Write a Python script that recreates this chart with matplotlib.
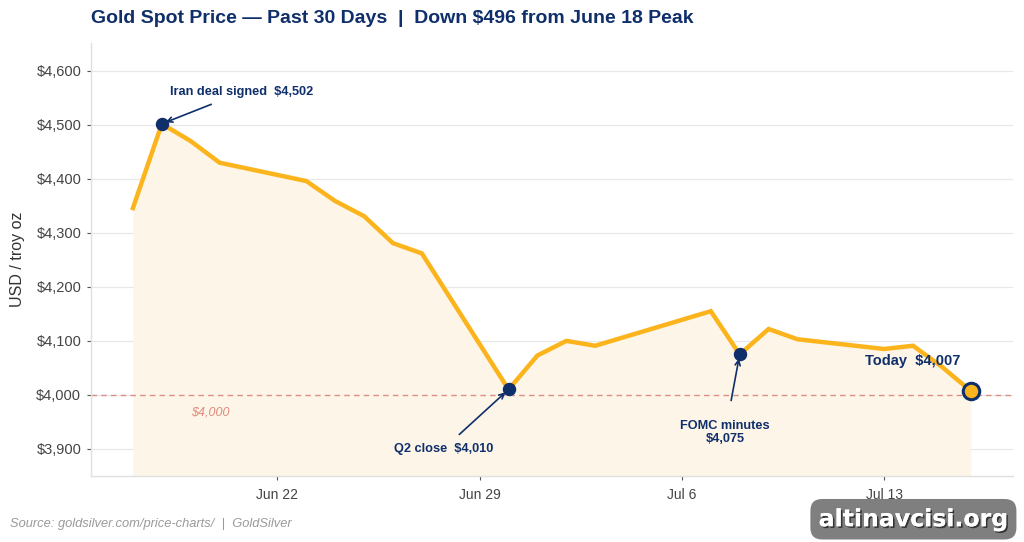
import matplotlib
matplotlib.use("Agg")
import matplotlib.pyplot as plt
import matplotlib.patheffects as pe
import pandas as pd

plt.rcParams['font.family'] = ['Liberation Sans', 'DejaVu Sans']

dates = pd.to_datetime([
    "2025-06-17", "2025-06-18", "2025-06-19", "2025-06-20", "2025-06-23",
    "2025-06-24", "2025-06-25", "2025-06-26", "2025-06-27", "2025-06-30",
    "2025-07-01", "2025-07-02", "2025-07-03", "2025-07-07", "2025-07-08",
    "2025-07-09", "2025-07-10", "2025-07-13", "2025-07-14", "2025-07-15",
    "2025-07-16",
])
prices = [4346, 4502, 4470, 4430, 4396,
          4359, 4331, 4281, 4262, 4010,
          4073, 4100, 4091, 4155, 4075,
          4122, 4103, 4085, 4091, 4052,
          4007]

events = [
    ("2025-06-18", 4502, "Iran deal signed  $4,502"),
    ("2025-06-30", 4010, "Q2 close  $4,010"),
    ("2025-07-08", 4075, "FOMC minutes\n$4,075"),
]
today_label = "Today  $4,007"
ref_level = 4000
yticks = [3900, 4000, 4100, 4200, 4300, 4400, 4500, 4600]
xtick_dates = pd.to_datetime(["2025-06-22", "2025-06-29", "2025-07-06", "2025-07-13"])

NAVY = "#0f2f6b"
GOLD = "#fbb41c"
FILL = "#fdf5e8"

fig = plt.figure(figsize=(10.24, 5.42), dpi=100)
ax = fig.add_axes([0.0889, 0.122, 0.9001, 0.799])

ax.fill_between(dates, prices, 3850, color=FILL, linewidth=0, zorder=1)
ax.plot(dates, prices, color=GOLD, linewidth=3.2, zorder=3, solid_joinstyle='miter')
ax.axhline(ref_level, color="#d9857a", linestyle=(0, (4, 3)), linewidth=1.0, alpha=0.9, zorder=2)
ax.text(pd.Timestamp("2025-06-19") + pd.Timedelta(hours=16), 3968, "$4,000",
        color="#e0897c", fontsize=9, style='italic', ha='center', va='center')

for d, v, lab in events:
    ax.scatter([pd.Timestamp(d)], [v], s=75, color=NAVY, zorder=5)

ax.annotate(events[0][2], xy=(pd.Timestamp(events[0][0]), events[0][1]),
            xytext=(pd.Timestamp("2025-06-20") + pd.Timedelta(hours=18), 4560),
            ha='center', va='center', fontsize=9.2, fontweight='bold', color=NAVY,
            arrowprops=dict(arrowstyle='->', color=NAVY, lw=1.2, shrinkA=6, shrinkB=3))
ax.annotate(events[1][2], xy=(pd.Timestamp(events[1][0]), events[1][1]),
            xytext=(pd.Timestamp("2025-06-27") + pd.Timedelta(hours=18), 3900),
            ha='center', va='center', fontsize=9.2, fontweight='bold', color=NAVY,
            arrowprops=dict(arrowstyle='->', color=NAVY, lw=1.2, shrinkA=6, shrinkB=3))
ax.annotate(events[2][2], xy=(pd.Timestamp(events[2][0]), events[2][1]),
            xytext=(pd.Timestamp("2025-07-07") + pd.Timedelta(hours=12), 3931),
            ha='center', va='center', fontsize=9.2, fontweight='bold', color=NAVY,
            linespacing=1.1,
            arrowprops=dict(arrowstyle='->', color=NAVY, lw=1.2, shrinkA=12, shrinkB=3))

ax.scatter([dates[-1]], [prices[-1]], s=140, color=GOLD, edgecolor=NAVY, linewidth=2.2, zorder=6)
ax.text(pd.Timestamp("2025-07-14"), 4063, today_label,
        ha='center', va='center', fontsize=10.5, fontweight='bold', color=NAVY)

ax.set_ylim(3850, 4652)
ax.set_yticks(yticks)
ax.set_yticklabels([f"${v:,}" for v in yticks])
ax.set_xticks(xtick_dates)
ax.set_xticklabels([d.strftime("%b %-d") for d in xtick_dates])
ax.margins(x=0.05)

ax.grid(axis='y', color="#e8e8e8", linewidth=0.9)
ax.grid(axis='x', visible=False)
ax.set_axisbelow(True)
for s in ['top', 'right']:
    ax.spines[s].set_visible(False)
for s in ['left', 'bottom']:
    ax.spines[s].set_color("#e0e0e0")
    ax.spines[s].set_linewidth(1.0)
ax.tick_params(axis='both', colors="#555555", labelsize=10.5, length=3, width=0.8)
ax.tick_params(axis='y', pad=4, labelcolor="#444444")
ax.tick_params(axis='x', pad=6, labelcolor="#444444", labelsize=10)
ax.set_ylabel("USD / troy oz", fontsize=11.5, color="#333333", labelpad=8)

fig.text(0.0889, 0.966, "Gold Spot Price \u2014 Past 30 Days  |  Down $496 from June 18 Peak",
         fontsize=14, fontweight='bold', color=NAVY, ha='left', va='center')
fig.text(0.01, 0.033, "Source: goldsilver.com/price-charts/  |  GoldSilver",
         fontsize=9.3, style='italic', color="#9a9a9a", ha='left', va='center')
wm = fig.text(0.892, 0.042, "altinavcisi.org", fontsize=17, fontweight='bold', color="white",
              family='DejaVu Sans', ha='center', va='center',
              bbox=dict(boxstyle='round,pad=0.35,rounding_size=0.5', facecolor="#7f7f7f",
                        edgecolor="none"))
wm.set_path_effects([pe.withSimplePatchShadow(offset=(1.2, -1.2), shadow_rgbFace="#222222", alpha=0.8),
                     pe.Normal()])

fig.savefig("out.png", dpi=100)
